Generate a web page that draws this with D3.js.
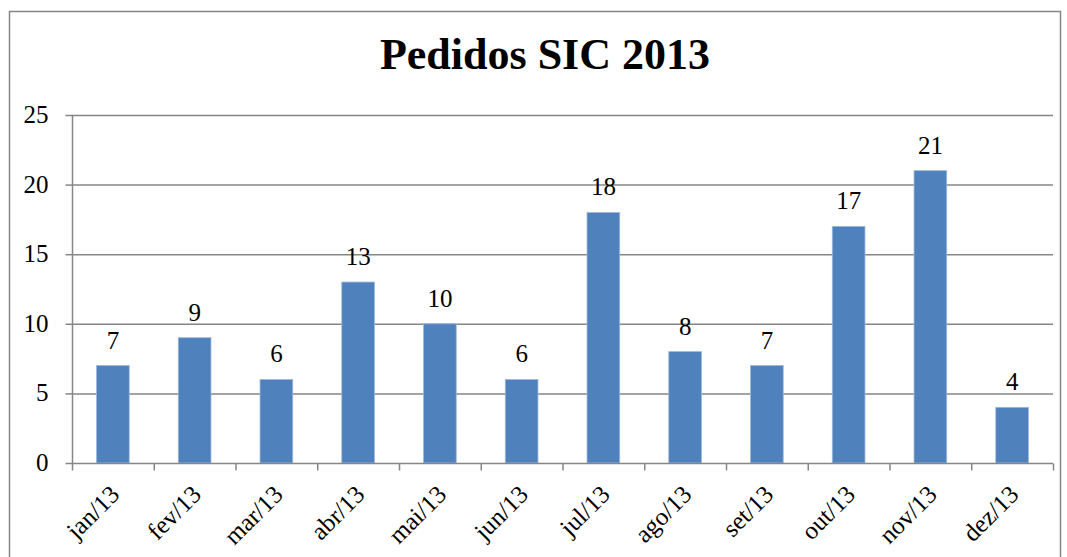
<!DOCTYPE html>
<html><head><meta charset="utf-8">
<script src="https://cdn.jsdelivr.net/npm/d3@7"></script>
<style>html,body{margin:0;padding:0;background:#fff;}</style>
</head><body>
<svg id="chart" width="1067" height="557"></svg>
<script>
const categories = ["jan/13","fev/13","mar/13","abr/13","mai/13","jun/13","jul/13","ago/13","set/13","out/13","nov/13","dez/13"];
const values = [7,9,6,13,10,6,18,8,7,17,21,4];
const yTicks = [0,5,10,15,20,25];
const title = "Pedidos SIC 2013";

const FF = '"Liberation Serif"';
const svg = d3.select("#chart");
const pLeft = 72, pRight = 1053, pTop = 115, pBottom = 463;
const grey = "#868686";

svg.append("rect").attr("x",9.5).attr("y",11.5).attr("width",1051).attr("height",560)
  .attr("fill","none").attr("stroke",grey).attr("stroke-width",1.5);

svg.append("text").attr("x",545).attr("y",69).attr("text-anchor","middle")
  .style("font-family",FF).style("font-weight","bold").style("font-size","44px").text(title);

const x = d3.scaleBand().domain(categories).range([pLeft,pRight]).paddingInner(0).paddingOuter(0);
const y = d3.scaleLinear().domain([0,25]).range([pBottom,pTop]);

// gridlines
svg.append("g").selectAll("line").data(yTicks.filter(d=>d>0)).join("line")
  .attr("x1",pLeft).attr("x2",pRight).attr("y1",d=>y(d)+0.5).attr("y2",d=>y(d)+0.5)
  .attr("stroke",grey).attr("stroke-width",1.5);

// y axis
const yAxis = svg.append("g").attr("transform",`translate(${pLeft+0.5},0)`)
  .call(d3.axisLeft(y).tickValues(yTicks).tickSize(7).tickPadding(17).tickFormat(d3.format("d")));
yAxis.select(".domain").attr("stroke",grey).attr("stroke-width",1.5).attr("d",`M0,${pTop}V${pBottom}`);
yAxis.selectAll(".tick line").attr("stroke",grey).attr("stroke-width",1.5);
yAxis.selectAll(".tick text").style("font-family",FF).style("font-size","25px").attr("fill","#000").attr("dy","0.3em");

// bars
const bw = x.bandwidth()*0.4;
svg.append("g").selectAll("rect").data(values).join("rect")
  .attr("x",(d,i)=>x(categories[i])+x.bandwidth()/2-bw/2)
  .attr("y",d=>y(d))
  .attr("width",bw).attr("height",d=>pBottom-y(d))
  .attr("fill","#4F81BD").attr("stroke","#9db8dc").attr("stroke-width",0.8);

// x axis
const xAxis = svg.append("g").attr("transform",`translate(0,${pBottom+0.5})`)
  .call(d3.axisBottom(x).tickSize(0).tickFormat(""));
xAxis.select(".domain").attr("stroke",grey).attr("stroke-width",1.5).attr("d",`M${pLeft},0H${pRight}`);
const bounds = d3.range(categories.length+1).map(i=>pLeft + i*x.step());
xAxis.selectAll(".bt").data(bounds).join("line").attr("class","bt")
  .attr("x1",d=>d+0.5).attr("x2",d=>d+0.5).attr("y1",0).attr("y2",7)
  .attr("stroke",grey).attr("stroke-width",1.5);

// x labels rotated
svg.append("g").selectAll("text").data(categories).join("text")
  .attr("transform",d=>`translate(${x(d)+x.bandwidth()/2+8},${pBottom+33}) rotate(-45)`)
  .attr("text-anchor","end")
  .style("font-family",FF).style("font-size","25px").text(d=>d);

// value labels
svg.append("g").selectAll("text").data(values).join("text")
  .attr("x",(d,i)=>x(categories[i])+x.bandwidth()/2)
  .attr("y",d=>y(d)-17)
  .attr("text-anchor","middle").style("font-family",FF).style("font-size","25px").text(d=>d);
</script>
</body></html>
